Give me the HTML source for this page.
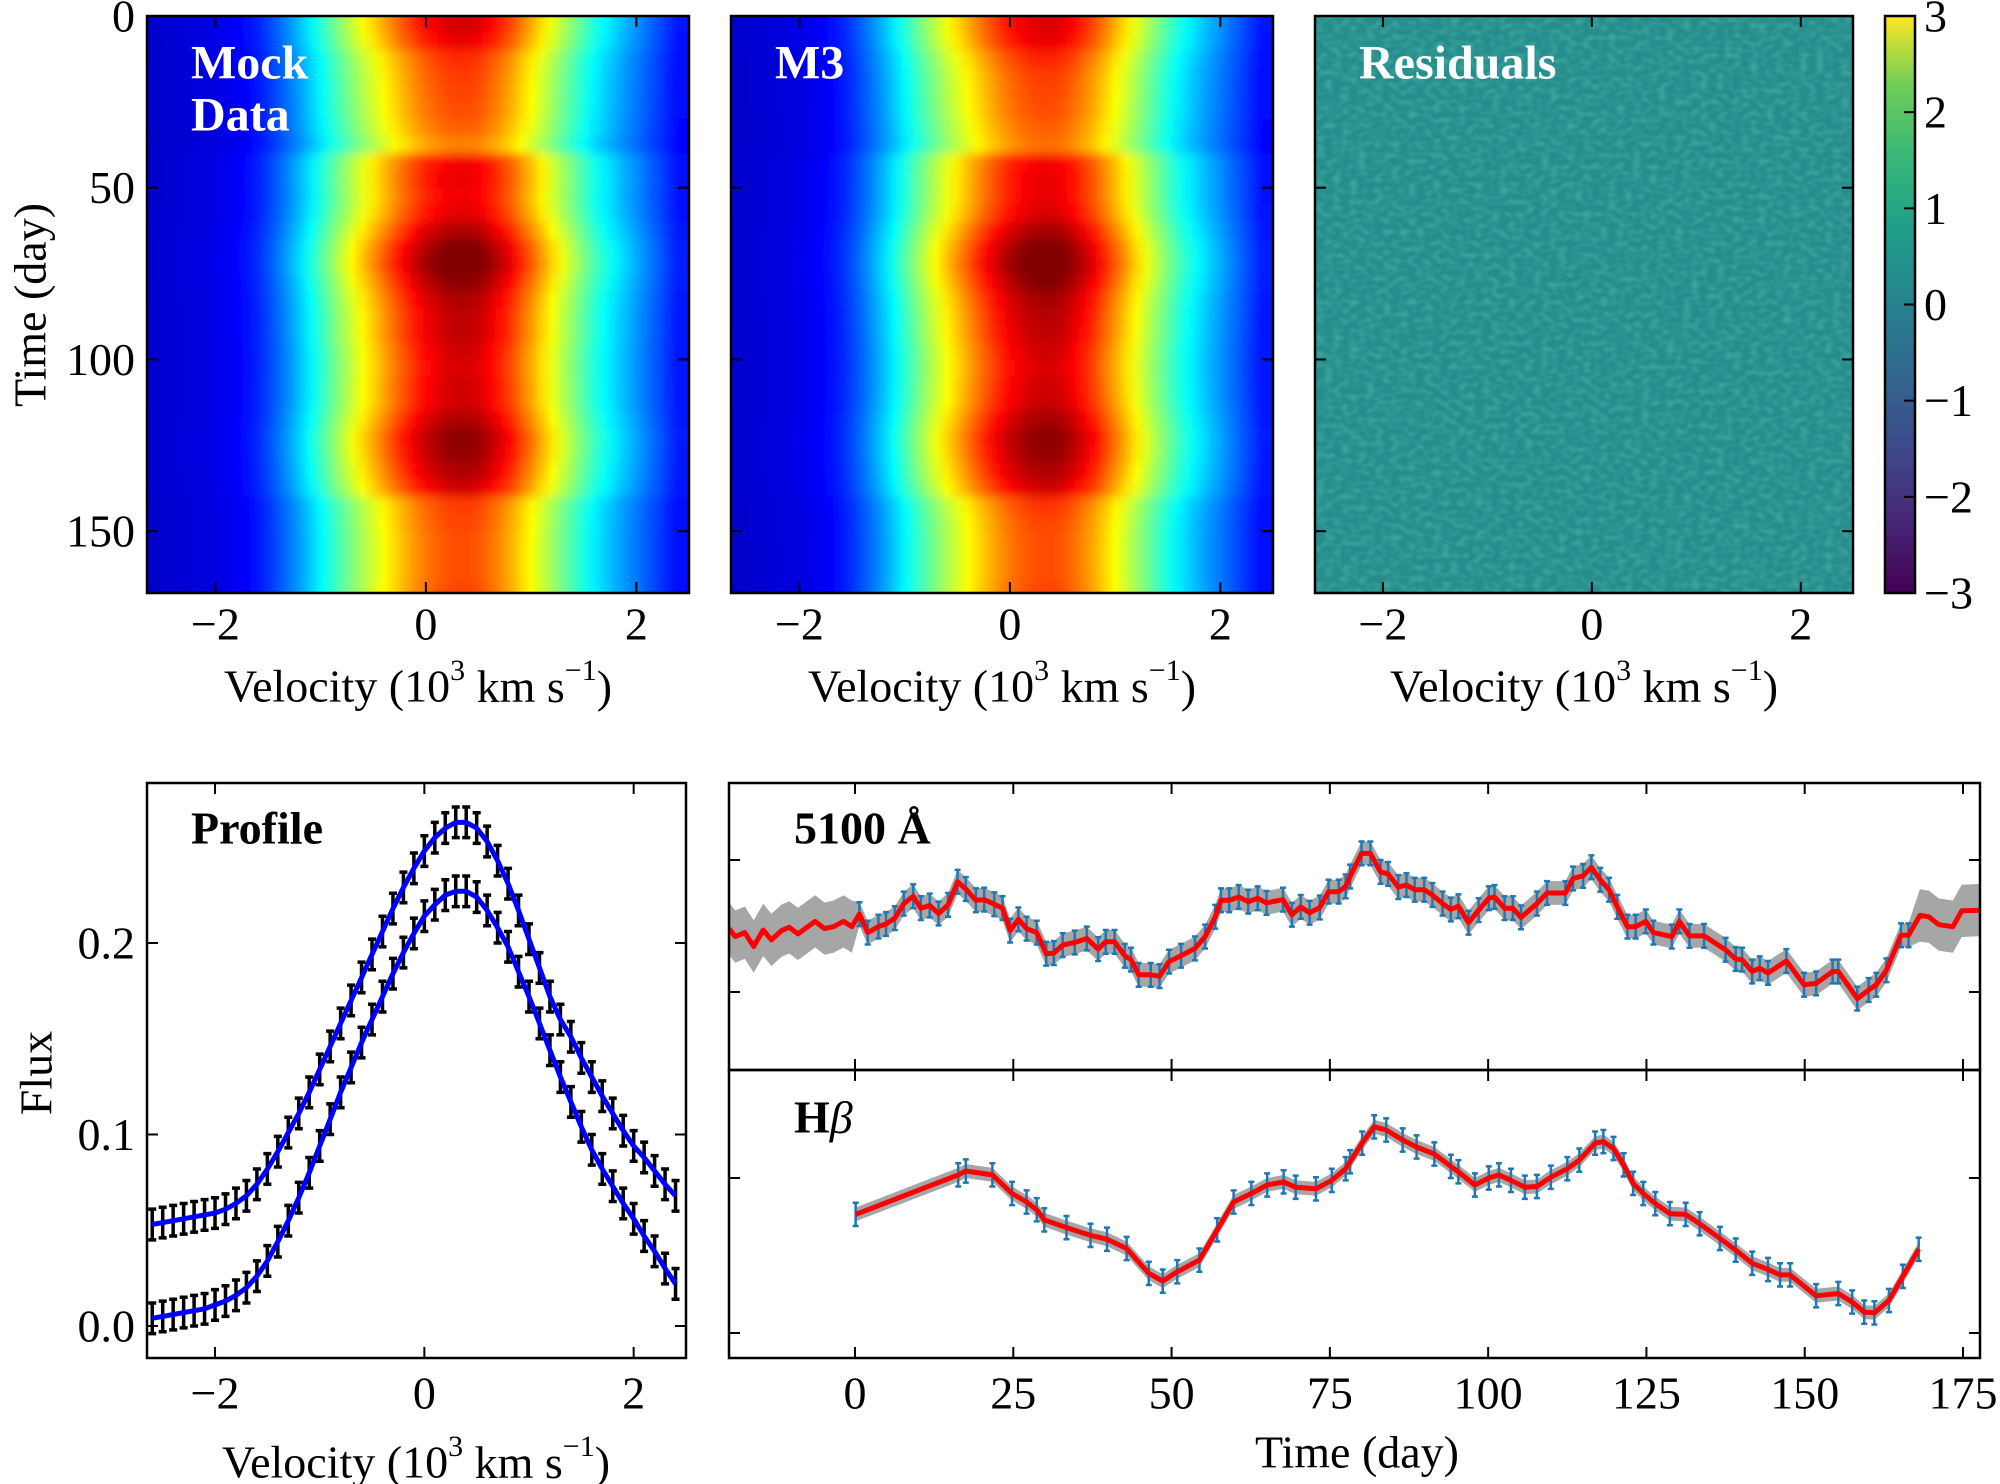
<!DOCTYPE html>
<html><head><meta charset="utf-8"><style>
html,body{margin:0;padding:0;background:#fff;}
svg{display:block;}
text{font-family:"Liberation Serif",serif;fill:#000;}
</style></head><body>
<svg id="fig" width="2000" height="1484" viewBox="0 0 2000 1484" xmlns="http://www.w3.org/2000/svg">
<defs>
<linearGradient id="viridis" x1="0" y1="1" x2="0" y2="0">
<stop offset="0" stop-color="#440154"/><stop offset="0.13" stop-color="#482878"/><stop offset="0.25" stop-color="#3e4989"/><stop offset="0.38" stop-color="#31688e"/><stop offset="0.5" stop-color="#26828e"/><stop offset="0.63" stop-color="#1f9e89"/><stop offset="0.75" stop-color="#35b779"/><stop offset="0.88" stop-color="#6ece58"/><stop offset="1" stop-color="#fde725"/>
</linearGradient>
<filter id="noise" x="0" y="0" width="100%" height="100%">
<feTurbulence type="fractalNoise" baseFrequency="0.12 0.17" numOctaves="1" seed="4"/>
<feColorMatrix type="matrix" values="0 0 0 0 0.15  0 0 0 0 0.62  0 0 0 0 0.5  0 0 0 1.4 -0.55"/>
</filter>
<filter id="vblur" x="-5%" y="-5%" width="110%" height="110%"><feGaussianBlur stdDeviation="1 5"/></filter>
<clipPath id="clipMock"><rect x="147" y="16" width="542" height="577"/></clipPath>
<clipPath id="clipM3"><rect x="731" y="16" width="542" height="577"/></clipPath>
<clipPath id="clipProf"><rect x="147" y="783" width="539" height="575"/></clipPath>
<clipPath id="clipLC1"><rect x="729" y="783" width="1251" height="287"/></clipPath>
<clipPath id="clipLC2"><rect x="729" y="1070" width="1251" height="288"/></clipPath>
</defs>
<g id="layer"></g>
</svg>
<script>
// ---------------- data ----------------
const velGrid = [-2.6,-2.5,-2.4,-2.3,-2.2,-2.1,-2.0,-1.9,-1.8,-1.7,-1.6,-1.5,-1.4,-1.3,-1.2,-1.1,-1.0,-0.9,-0.8,-0.7,-0.6,-0.5,-0.4,-0.3,-0.2,-0.1,0.0,0.1,0.2,0.3,0.4,0.5,0.6,0.7,0.8,0.9,1.0,1.1,1.2,1.3,1.4,1.5,1.6,1.7,1.8,1.9,2.0,2.1,2.2,2.3,2.4];
const profileUpper = [.053,.054,.055,.056,.057,.058,.059,.061,.064,.068,.074,.082,.091,.101,.111,.122,.134,.146,.158,.170,.182,.194,.206,.218,.229,.239,.248,.255,.260,.263,.263,.260,.253,.243,.231,.217,.202,.187,.172,.160,.151,.140,.130,.120,.111,.102,.094,.088,.081,.074,.068];
const profileLower = [.004,.005,.006,.007,.008,.009,.011,.013,.016,.020,.026,.034,.044,.055,.067,.080,.094,.108,.122,.135,.148,.160,.172,.184,.195,.205,.214,.220,.225,.227,.227,.224,.217,.208,.198,.185,.172,.158,.144,.130,.117,.104,.092,.082,.073,.064,.056,.047,.039,.030,.022];
const profileErr = 0.008;

const mapTimes = [0,5,10,15,20,25,30,35,40,45,50,55,60,65,70,75,80,85,90,95,100,105,110,115,120,125,130,135,140,145,150,155,160,165];
const mockAmp = [1.00,0.97,0.90,0.88,0.87,0.86,0.84,0.80,0.96,0.97,0.96,0.98,1.04,1.10,1.12,1.08,1.04,1.02,1.02,1.00,0.99,1.00,1.00,1.04,1.08,1.07,1.04,1.00,0.88,0.87,0.86,0.86,0.86,0.87];
const m3Amp   = [0.99,0.97,0.91,0.88,0.87,0.86,0.84,0.82,0.96,0.97,0.97,0.99,1.05,1.10,1.12,1.09,1.05,1.03,1.02,1.00,0.99,1.00,1.01,1.05,1.08,1.07,1.04,1.00,0.89,0.87,0.86,0.86,0.86,0.87];

const contTimes = [-19.9,-18.9,-17.4,-16.0,-14.5,-13.2,-11.6,-10.4,-9.0,-6.3,-4.8,-3.4,-1.8,-0.5,0.7,2.0,3.7,4.9,6.3,7.7,9.2,10.4,11.8,13.2,14.7,16.2,17.5,19.1,20.4,22.0,23.3,24.5,25.8,27.1,28.7,30.2,31.4,32.8,34.7,36.6,38.4,39.6,41.0,42.6,43.6,44.8,46.7,48.1,49.6,51.5,53.7,55.3,56.9,57.8,59.1,60.6,62.1,63.6,65.0,67.6,69.0,70.4,71.8,73.4,74.8,76.4,77.5,78.2,80.0,81.4,83.0,84.2,85.8,87.1,88.4,89.9,91.2,92.8,94.1,95.3,96.9,98.5,100.1,101.0,102.6,103.9,105.2,107.7,109.3,112.2,113.4,115.0,116.3,117.7,119.1,120.4,122.0,123.3,124.9,126.1,129.0,130.2,131.8,134.1,137.5,139.1,140.1,141.7,142.9,144.2,147.1,149.9,151.8,154.4,155.3,158.3,160.1,161.3,162.9,165.2,166.4,168.2,169.6,171.2,173.4,174.8,177.7];
const contFlux = [1.096,1.084,1.090,1.069,1.094,1.079,1.093,1.098,1.088,1.107,1.096,1.099,1.107,1.099,1.118,1.090,1.099,1.103,1.112,1.134,1.145,1.127,1.131,1.119,1.132,1.167,1.156,1.139,1.140,1.133,1.127,1.093,1.110,1.096,1.090,1.058,1.059,1.071,1.075,1.081,1.065,1.076,1.076,1.055,1.049,1.026,1.026,1.024,1.046,1.055,1.066,1.084,1.114,1.139,1.139,1.144,1.137,1.142,1.135,1.140,1.117,1.129,1.120,1.128,1.152,1.152,1.160,1.175,1.210,1.210,1.182,1.179,1.159,1.162,1.155,1.155,1.147,1.134,1.125,1.130,1.105,1.124,1.142,1.144,1.127,1.127,1.113,1.134,1.150,1.150,1.172,1.176,1.189,1.170,1.155,1.129,1.099,1.099,1.107,1.090,1.084,1.107,1.085,1.085,1.064,1.050,1.049,1.031,1.036,1.029,1.047,1.011,1.013,1.031,1.031,0.990,1.003,1.011,1.033,1.086,1.086,1.116,1.114,1.102,1.099,1.123,1.124];
const contErr = 0.018;

const hbTimes = [0.1,16.3,17.5,21.7,24.8,27.1,28.7,29.9,33.4,37.2,39.8,42.9,46.4,48.6,50.9,54.4,57.2,59.8,62.6,65.1,67.7,69.6,72.8,75.3,77.5,78.2,80.1,82.0,83.9,86.5,88.7,91.5,94.1,95.3,97.9,100.1,101.7,103.6,105.8,107.7,109.9,112.5,114.4,116.9,118.2,119.8,121.4,122.9,124.5,126.4,128.7,131.2,133.4,136.6,139.1,141.7,144.2,146.1,147.7,151.8,155.3,157.5,159.4,161.0,163.3,165.5,168.0];
const hbFlux = [1.153,1.204,1.209,1.204,1.180,1.169,1.159,1.146,1.136,1.126,1.121,1.109,1.077,1.067,1.079,1.094,1.133,1.169,1.180,1.191,1.195,1.188,1.186,1.197,1.212,1.221,1.245,1.266,1.262,1.249,1.240,1.231,1.215,1.208,1.191,1.200,1.204,1.197,1.188,1.189,1.201,1.212,1.223,1.245,1.247,1.238,1.217,1.193,1.180,1.167,1.154,1.153,1.141,1.122,1.107,1.090,1.082,1.075,1.075,1.048,1.051,1.040,1.027,1.026,1.042,1.073,1.108];
const hbErr = 0.015;

const velTicks = [-2,0,2];
const timeTicksMap = [0,50,100,150];
const cbTicks = [3,2,1,0,-1,-2,-3];
const fluxTicks = [0.0,0.1,0.2];
const lcTimeTicks = [0,25,50,75,100,125,150,175];
const contTicks = [1.0,1.2];
const hbTicks = [1.0,1.2];

// ---------------- helpers ----------------
const NS = "http://www.w3.org/2000/svg";
const root = document.getElementById('layer');
const defs = document.querySelector('defs');
function mk(tag, attrs, parent){
  const e = document.createElementNS(NS, tag);
  for (const k in attrs) e.setAttribute(k, attrs[k]);
  (parent||root).appendChild(e);
  return e;
}
function lin(d0,d1,r0,r1){ return v => r0 + (v-d0)*(r1-r0)/(d1-d0); }
function jet(x){
  x = Math.max(0, Math.min(1, x));
  const c = v => Math.round(255*Math.max(0, Math.min(1, v)));
  return `rgb(${c(1.5-Math.abs(4*x-3))},${c(1.5-Math.abs(4*x-2))},${c(1.5-Math.abs(4*x-1))})`;
}
function label(txt, x, y, size, anchor, opts){
  const t = mk('text', Object.assign({x:x, y:y, 'font-size':size, 'text-anchor':anchor||'middle', 'dominant-baseline':'central'}, opts||{}));
  t.textContent = txt;
  return t;
}
function frame(x0,y0,x1,y1,name){
  const r = mk('rect',{x:x0,y:y0,width:x1-x0,height:y1-y0,fill:'none',stroke:'#000','stroke-width':2.5});
  
  
}
function tickX(xs, y0, y1, g){
  xs.forEach(x=>{
    mk('line',{x1:x,y1:y1,x2:x,y2:y1-11,stroke:'#000','stroke-width':2},g);
    mk('line',{x1:x,y1:y0,x2:x,y2:y0+11,stroke:'#000','stroke-width':2},g);
  });
}
function tickY(ys, x0, x1, g){
  ys.forEach(y=>{
    mk('line',{x1:x0,y1:y,x2:x0+11,y2:y,stroke:'#000','stroke-width':2},g);
    mk('line',{x1:x1,y1:y,x2:x1-11,y2:y,stroke:'#000','stroke-width':2},g);
  });
}
function velLabel(cx, y, name){
  const t = mk('text',{x:cx,y:y,'font-size':46,'text-anchor':'middle','dominant-baseline':'central'});
  
  
  t.innerHTML = 'Velocity (10<tspan dy="-16" font-size="30">3</tspan><tspan dy="16"> km s</tspan><tspan dy="-16" font-size="30">−1</tspan><tspan dy="16">)</tspan>';
}

// ---------------- top heatmaps ----------------
const mapY = lin(0,168,16,593);
function heatmap(x0, amps, clip, name){
  const vx = lin(-2.65,2.5,x0,x0+542);
  const outer = mk('g',{'clip-path':`url(#${clip})`});
  
  
  const g = mk('g',{filter:'url(#vblur)'},outer);
  const peak = Math.max(...profileLower);
  mapTimes.forEach((t,i)=>{
    const gid = name+'-row-'+i;
    const grad = mk('linearGradient',{id:gid,gradientUnits:'userSpaceOnUse',x1:vx(-2.65),y1:0,x2:vx(2.5),y2:0},defs);
    velGrid.forEach((v,j)=>{
      const val = 0.06 + 0.86*amps[i]*profileLower[j]/peak;
      const off = (vx(v)-vx(-2.65))/(vx(2.5)-vx(-2.65));
      mk('stop',{offset:off.toFixed(4),'stop-color':jet(val)},grad);
    });
    const yTop = i===0 ? mapY(-15) : mapY(t);
    const yBot = i===mapTimes.length-1 ? mapY(185) : mapY(mapTimes[i+1]);
    const c = mk('rect',{x:x0-20,y:yTop.toFixed(2),width:582,height:(yBot-yTop+0.6).toFixed(2),fill:`url(#${gid})`},g);
    
    
  });
  const gt = mk('g',{});
  tickX(velTicks.map(vx), 16, 593, gt);
  tickY(timeTicksMap.map(mapY), x0, x0+542, gt);
  frame(x0,16,x0+542,593, name+'-frame');
  velTicks.forEach(v=>{
    const t = label(v<0?'−'+Math.abs(v):String(v), vx(v), 624, 46);
    
    
  });
  velLabel(x0+271, 686, 'x-axis-title');
}
heatmap(147, mockAmp, 'clipMock', 'mock-data-map');
heatmap(731, m3Amp, 'clipM3', 'm3-model-map');

timeTicksMap.forEach(t=>{
  const l = label(String(t), 135, mapY(t), 46, 'end');
  
  
});
{
  const yl = label('Time (day)', 30, 305, 46, 'middle', {transform:'rotate(-90 30 305)'});
  
  
}
{
  const a = label('Mock', 191, 63, 48, 'start', {'font-weight':'bold', style:'fill:#fff'});
  
  
  const b = label('Data', 191, 115, 48, 'start', {'font-weight':'bold', style:'fill:#fff'});
  
  
  const c = label('M3', 775, 63, 48, 'start', {'font-weight':'bold', style:'fill:#fff'});
  
  
}

// residuals
{
  const x0 = 1315;
  const vx = lin(-2.65,2.5,x0,x0+538);
  const bg = mk('rect',{x:x0,y:16,width:538,height:577,fill:'#258d8c'});
  
  
  const nz = mk('rect',{x:x0,y:16,width:538,height:577,filter:'url(#noise)',opacity:0.6});
  
  
  const gt = mk('g',{});
  tickX(velTicks.map(vx), 16, 593, gt);
  tickY(timeTicksMap.map(mapY), x0, x0+538, gt);
  frame(x0,16,x0+538,593,'residual-frame');
  velTicks.forEach(v=>{
    const t = label(v<0?'−'+Math.abs(v):String(v), vx(v), 624, 46);
    
    
  });
  velLabel(x0+269, 686, 'x-axis-title');
  const r = label('Residuals', 1359, 63, 48, 'start', {'font-weight':'bold', style:'fill:#fff'});
  
  
}
// colorbar
{
  const cy = lin(-3,3,593,16);
  const cb = mk('rect',{x:1885,y:16,width:30,height:577,fill:'url(#viridis)',stroke:'#000','stroke-width':2.5});
  
  
  cbTicks.forEach(v=>{
    mk('line',{x1:1915,y1:cy(v),x2:1904,y2:cy(v),stroke:'#000','stroke-width':2});
    const t = label(v<0?'−'+Math.abs(v):String(v), 1924, cy(v), 46, 'start');
    
    
  });
}

// ---------------- profile ----------------
{
  const px = lin(-2.65,2.5,147,686), py = lin(0,0.2,1326,943);
  const g = mk('g',{'clip-path':'url(#clipProf)'});
  
  
  [profileUpper, profileLower].forEach((arr,k)=>{
    arr.forEach((f,i)=>{
      const x = px(velGrid[i]);
      const e = mk('path',{d:`M${x},${py(f-profileErr)}V${py(f+profileErr)}M${x-4},${py(f-profileErr)}h8M${x-4},${py(f+profileErr)}h8`,stroke:'#000','stroke-width':3.5,fill:'none'},g);
      
      
    });
    const d = arr.map((f,i)=>(i?'L':'M')+px(velGrid[i]).toFixed(1)+','+py(f).toFixed(1)).join('');
    const l = mk('path',{d:d,stroke:'#0000ff','stroke-width':5,fill:'none','stroke-linejoin':'round'},g);
    
    
  });
  const gt = mk('g',{});
  tickX(velTicks.map(px), 783, 1358, gt);
  tickY(fluxTicks.map(py), 147, 686, gt);
  frame(147,783,686,1358,'profile-frame');
  fluxTicks.forEach(f=>{
    const t = label(f.toFixed(1), 135, py(f), 46, 'end');
    
    
  });
  velTicks.forEach(v=>{
    const t = label(v<0?'−'+Math.abs(v):String(v), px(v), 1393, 46);
    
    
  });
  velLabel(416, 1462, 'x-axis-title');
  const fl = label('Flux', 36, 1073, 46, 'middle', {transform:'rotate(-90 36 1073)'});
  
  
  const pl = label('Profile', 191, 828, 46, 'start', {'font-weight':'bold'});
  
  
}

// ---------------- light curves ----------------
const tx = lin(0,175,855,1963);
function lightCurve(times, flux, err, band, yOf, clip, y0, y1, ticks, name){
  const g = mk('g',{'clip-path':`url(#${clip})`});
  
  
  const w = t => (t<0 || t>168) ? band*2.2 : band;
  const upper = times.map((t,i)=>tx(t).toFixed(1)+','+yOf(flux[i]+w(t)).toFixed(1));
  const lower = times.map((t,i)=>tx(t).toFixed(1)+','+yOf(flux[i]-w(t)).toFixed(1)).reverse();
  const b = mk('polygon',{points:upper.concat(lower).join(' '),fill:'#808080',opacity:0.7},g);
  
  
  times.forEach((t,i)=>{
    if (t<0 || t>168) return;
    const x = tx(t), a = yOf(flux[i]-err), c = yOf(flux[i]+err);
    const e = mk('path',{d:`M${x},${a}V${c}M${x-3},${a}h6M${x-3},${c}h6`,stroke:'#1f77b4','stroke-width':2.5,fill:'none'},g);
    
    
  });
  const d = times.map((t,i)=>(i?'L':'M')+tx(t).toFixed(1)+','+yOf(flux[i]).toFixed(1)).join('');
  const l = mk('path',{d:d,stroke:'#ff0000','stroke-width':5,fill:'none','stroke-linejoin':'round'},g);
  
  
  const gt = mk('g',{});
  tickX(lcTimeTicks.map(tx), y0, y1, gt);
  tickY(ticks.map(yOf), 729, 1980, gt);
  frame(729,y0,1980,y1,name+'-frame');
}
lightCurve(contTimes, contFlux, contErr, 0.018, lin(1.0,1.2,992,860), 'clipLC1', 783, 1070, contTicks, 'continuum-5100-panel');
lightCurve(hbTimes, hbFlux, hbErr, 0.009, lin(1.0,1.2,1333,1178), 'clipLC2', 1070, 1358, hbTicks, 'hbeta-panel');
{
  const a = label('5100 Å', 794, 828, 46, 'start', {'font-weight':'bold'});
  
  
  const h = mk('text',{x:794,y:1117,'font-size':46,'text-anchor':'start','dominant-baseline':'central','font-weight':'bold'});
  
  
  h.innerHTML = 'H<tspan font-style="italic" font-weight="normal">β</tspan>';
  lcTimeTicks.forEach(t=>{
    const l = label(String(t), tx(t), 1393, 46);
    
    
  });
  const xt = label('Time (day)', 1357, 1452, 46);
  
  
}
</script>
</body></html>
